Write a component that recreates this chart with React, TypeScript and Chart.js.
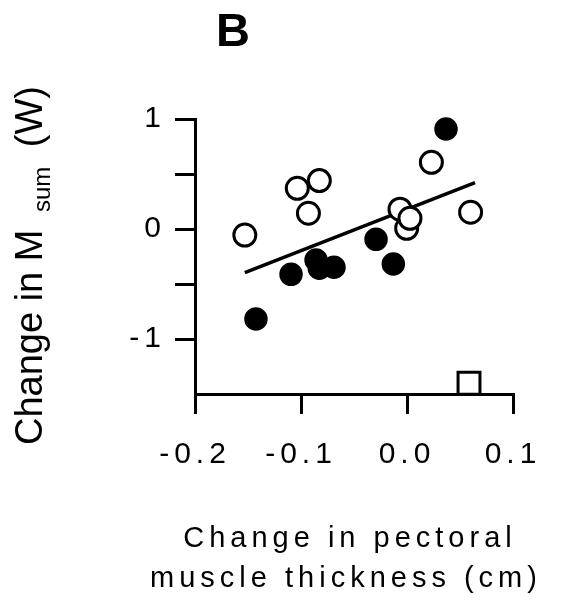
import React, { useEffect, useRef } from 'react';
import { Chart, registerables } from 'chart.js';

Chart.register(...registerables);

// ---- data ----
const openX = [-0.153, -0.1035, -0.0827, -0.093, -0.0066, -0.0003, 0.0028, 0.023, 0.06];
const openY = [-0.055, 0.37, 0.44, 0.143, 0.18, 0.006, 0.097, 0.606, 0.152];
const filledX = [0.0368, -0.1425, -0.1094, -0.0858, -0.0827, -0.0689, -0.0292, -0.0129];
const filledY = [0.909, -0.818, -0.412, -0.282, -0.357, -0.348, -0.094, -0.318];
const squareX = [0.0585];
const squareY = [-1.403];
const fitX = [-0.153, 0.0642];
const fitY = [-0.397, 0.421];

const xTicks = [-0.2, -0.1, 0.0, 0.1];
const xTickLabels = ['-0.2', '-0.1', '0.0', '0.1'];
const yTicks = [-1, -0.5, 0, 0.5, 1];
const yTickLabels = ['-1', '', '0', '', '1'];

const panelLabel = 'B';
const xTitleLines = ['Change in pectoral', 'muscle thickness (cm)'];
const yTitleMain = 'Change in M';
const yTitleSub = 'sum';
const yTitleEnd = '(W)';

const FONT = '"Liberation Sans", Arial, Helvetica, sans-serif';

const toPoints = (xs: number[], ys: number[]) => xs.map((x, i) => ({ x, y: ys[i] }));

const textPlugin = {
  id: 'customText',
  beforeDraw(chart: any) {
    (chart.ctx as any).letterSpacing = '5px';
  },
  afterDraw(chart: any) {
    const ctx = chart.ctx as any;
    ctx.save();
    ctx.fillStyle = '#000';
    ctx.textBaseline = 'alphabetic';

    // panel label
    ctx.letterSpacing = '0px';
    ctx.font = `bold 47px ${FONT}`;
    ctx.textAlign = 'center';
    ctx.fillText(panelLabel, 233, 46);

    // x title (two lines, spaced letters)
    ctx.font = `29px ${FONT}`;
    ctx.letterSpacing = '5px';
    ctx.textAlign = 'center';
    ctx.fillText(xTitleLines[0], 350, 547);
    ctx.fillText(xTitleLines[1], 346, 587);

    // y title, rotated, with subscript
    ctx.translate(42, 445);
    ctx.rotate(-Math.PI / 2);
    ctx.letterSpacing = '0px';
    ctx.textAlign = 'left';
    ctx.font = `38px ${FONT}`;
    ctx.fillText(yTitleMain, 0, 0);
    ctx.font = `24px ${FONT}`;
    ctx.fillText(yTitleSub, 233, 8);
    ctx.font = `38px ${FONT}`;
    ctx.textAlign = 'right';
    ctx.fillText(yTitleEnd, 359, 0);
    ctx.restore();
  },
};

export default function App() {
  const ref = useRef<HTMLCanvasElement | null>(null);

  useEffect(() => {
    document.body.style.margin = '0';
    const canvas = ref.current;
    if (!canvas) return;
    const chart = new Chart(canvas, {
      type: 'scatter',
      data: {
        datasets: [
          {
            label: 'open',
            data: toPoints(openX, openY),
            pointRadius: 11,
            pointBorderWidth: 3,
            pointBackgroundColor: '#ffffff',
            pointBorderColor: '#000000',
            clip: false as any,
            order: 1,
          },
          {
            label: 'filled',
            data: toPoints(filledX, filledY),
            pointRadius: 11,
            pointBorderWidth: 1.5,
            pointBackgroundColor: '#000000',
            pointBorderColor: '#000000',
            clip: false as any,
            order: 2,
          },
          {
            label: 'square',
            data: toPoints(squareX, squareY),
            pointStyle: 'rect',
            pointRadius: 15.5,
            pointBorderWidth: 3,
            pointBackgroundColor: '#ffffff',
            pointBorderColor: '#000000',
            clip: false as any,
            order: 3,
          },
          {
            type: 'line' as any,
            label: 'fit',
            data: toPoints(fitX, fitY),
            showLine: true,
            borderColor: '#000000',
            borderWidth: 3.5,
            pointRadius: 0,
            fill: false,
            clip: false as any,
            order: 10,
          } as any,
        ],
      },
      options: {
        responsive: false,
        animation: false,
        events: [],
        layout: { padding: { left: 0, top: 119, right: 51, bottom: 0 } },
        plugins: {
          legend: { display: false },
          tooltip: { enabled: false },
          title: { display: false },
        },
        scales: {
          x: {
            type: 'linear',
            min: -0.2,
            max: 0.1,
            afterBuildTicks: (scale: any) => {
              scale.ticks = xTicks.map((v) => ({ value: v }));
            },
            afterFit: (scale: any) => {
              scale.height = 216;
            },
            ticks: {
              color: '#000',
              font: { family: FONT, size: 30 },
              padding: 23,
              maxRotation: 0,
              autoSkip: false,
              callback: (_v: any, i: number) => xTickLabels[i],
            },
            grid: {
              drawOnChartArea: false,
              drawTicks: true,
              tickLength: 20,
              tickWidth: 3,
              tickColor: '#000',
              lineWidth: 3,
              color: '#000',
            },
            border: { display: true, width: 3, color: '#000' },
          },
          y: {
            type: 'linear',
            min: -1.5,
            max: 1,
            afterBuildTicks: (scale: any) => {
              scale.ticks = yTicks.map((v) => ({ value: v }));
            },
            afterFit: (scale: any) => {
              scale.width = 195;
            },
            ticks: {
              color: '#000',
              font: { family: FONT, size: 30 },
              padding: 9,
              autoSkip: false,
              callback: (_v: any, i: number) => yTickLabels[i],
            },
            grid: {
              drawOnChartArea: false,
              drawTicks: true,
              tickLength: 20,
              tickWidth: 3,
              tickColor: '#000',
              lineWidth: 3,
              color: '#000',
            },
            border: { display: true, width: 3, color: '#000' },
          },
        },
      },
      plugins: [textPlugin as any],
    });
    return () => chart.destroy();
  }, []);

  return (
    <div style={{ width: 564, height: 610 }}>
      <canvas ref={ref} width={564} height={610} style={{ display: 'block' }} />
    </div>
  );
}
